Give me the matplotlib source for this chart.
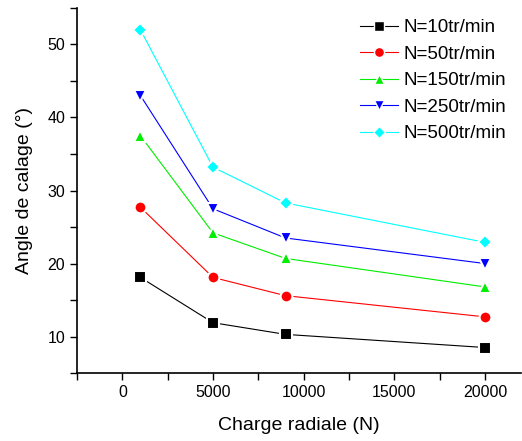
import matplotlib
matplotlib.use("Agg")
import matplotlib.pyplot as plt
from matplotlib.ticker import MultipleLocator

plt.rcParams["font.family"] = ["Liberation Sans", "DejaVu Sans"]

charge = [1000, 5000, 9000, 20000]
n10 = [18.1, 11.9, 10.3, 8.5]
n50 = [27.7, 18.1, 15.6, 12.7]
n150 = [37.5, 24.2, 20.7, 16.8]
n250 = [43.0, 27.5, 23.5, 20.0]
n500 = [52.0, 33.2, 28.3, 22.9]

series = [
    ("N=10tr/min", n10, "black", "s"),
    ("N=50tr/min", n50, "red", "o"),
    ("N=150tr/min", n150, "#00ee00", "^"),
    ("N=250tr/min", n250, "blue", "v"),
    ("N=500tr/min", n500, "cyan", "D"),
]

fig = plt.figure(figsize=(5.22, 4.41), dpi=100)
ax = fig.add_axes([0.1475, 0.154, 0.851, 0.828])

for label, vals, color, marker in series:
    ms = 7.5 if marker == "D" else 8.5
    ax.plot(charge, vals, color=color, lw=0.8, marker=marker, ms=ms,
            mfc=color, mec="white", mew=1.5, label=label)

ax.set_xlim(-2500, 22000)
ax.set_ylim(5, 55)
ax.xaxis.set_major_locator(MultipleLocator(5000))
ax.xaxis.set_minor_locator(MultipleLocator(2500))
ax.yaxis.set_major_locator(MultipleLocator(10))
ax.yaxis.set_minor_locator(MultipleLocator(5))
ax.tick_params(which="both", direction="out", width=1, labelsize=11.5)
ax.tick_params(which="major", length=5)
ax.tick_params(which="minor", length=5)
for side in ("top", "right"):
    ax.spines[side].set_visible(False)
ax.spines["left"].set_linewidth(1.2)
ax.spines["bottom"].set_linewidth(1.2)

ax.set_xlabel("Charge radiale (N)", fontsize=14, labelpad=12)
ax.set_ylabel("Angle de calage (°)", fontsize=14, labelpad=10)

leg = ax.legend(loc="upper right", bbox_to_anchor=(1.0, 1.01), frameon=False,
                fontsize=13.5, handlelength=2.0, handletextpad=0.3,
                labelspacing=0.5, borderaxespad=0.4, markerscale=0.85)
for h in leg.legend_handles:
    h.set_markeredgewidth(1.0)

fig.savefig("out.png", dpi=100)
